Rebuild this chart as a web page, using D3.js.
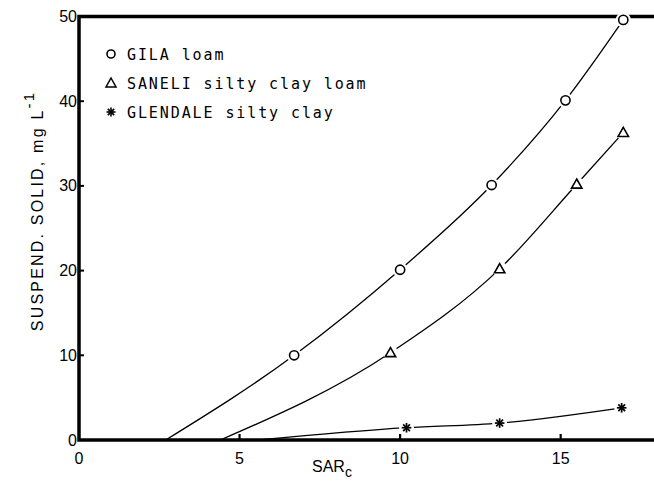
<!DOCTYPE html>
<html><head><meta charset="utf-8">
<script src="https://cdn.jsdelivr.net/npm/d3@7"></script>
<style>
html,body{margin:0;padding:0;background:#fff;}
svg{display:block;}
</style></head>
<body>
<svg id="chart" width="654" height="482"></svg>
<script>
// ---- data ----
const seriesNames = ["GILA loam", "SANELI silty clay loam", "GLENDALE silty clay"];
const seriesMarkers = ["circle", "triangle", "asterisk"];
const curveStartX = [2.7, 4.4, 5.6];          // where each curve leaves zero
const gilaX = [6.7, 10.0, 12.85, 15.15, 16.95];
const gilaY = [10.0, 20.1, 30.1, 40.1, 49.6];
const saneliX = [9.7, 13.1, 15.5, 16.95];
const saneliY = [10.3, 20.2, 30.2, 36.3];
const glendaleX = [10.2, 13.1, 16.9];
const glendaleY = [1.45, 2.0, 3.8];
const xTicks = [0, 5, 10, 15];
const yTicks = [0, 10, 20, 30, 40, 50];

const seriesX = [gilaX, saneliX, glendaleX];
const seriesY = [gilaY, saneliY, glendaleY];

// ---- layout ----
const svg = d3.select("#chart");
const x = d3.scaleLinear().domain([0, 18]).range([79, 657]);
const y = d3.scaleLinear().domain([0, 50]).range([440, 16.5]);

const plotFont = "'DejaVu Sans Mono', monospace";
const numFont = "'Liberation Sans', Arial, sans-serif";

// frame
svg.append("rect")
  .attr("x", x(0)).attr("y", y(50))
  .attr("width", x(18) - x(0)).attr("height", y(0) - y(50))
  .attr("fill", "none").attr("stroke", "#000").attr("stroke-width", 3.5);

// ticks (inside)
svg.append("g").selectAll("line").data(xTicks.filter(d => d > 0)).join("line")
  .attr("x1", d => x(d)).attr("x2", d => x(d))
  .attr("y1", y(0)).attr("y2", y(0) - 6)
  .attr("stroke", "#000").attr("stroke-width", 2.2);
svg.append("g").selectAll("line").data(yTicks.filter(d => d > 0 && d < 50)).join("line")
  .attr("x1", x(0)).attr("x2", x(0) + 5)
  .attr("y1", d => y(d)).attr("y2", d => y(d))
  .attr("stroke", "#000").attr("stroke-width", 2);

// tick labels
svg.append("g").selectAll("text").data(xTicks).join("text")
  .attr("x", d => x(d)).attr("y", 464)
  .attr("text-anchor", "middle")
  .attr("font-family", numFont).attr("font-size", 16)
  .text(d => d);
svg.append("g").selectAll("text").data(yTicks).join("text")
  .attr("x", 77).attr("y", d => y(d) + 5.5)
  .attr("text-anchor", "end")
  .attr("font-family", numFont).attr("font-size", 16)
  .text(d => d);

// axis titles
const xt = svg.append("text")
  .attr("x", 312).attr("y", 472)
  .attr("font-family", numFont).attr("font-size", 16);
xt.append("tspan").text("SAR");
xt.append("tspan").attr("dy", 5).attr("font-size", 14).text("c");

const yt = svg.append("text")
  .attr("transform", "translate(43,211) rotate(-90)")
  .attr("text-anchor", "middle")
  .attr("font-family", numFont).attr("font-size", 16)
  .attr("letter-spacing", 2.2);
yt.append("tspan").text("SUSPEND. SOLID, mg L");
yt.append("tspan").attr("dy", -9).attr("font-size", 15).text("-1");

// curves
const line = d3.line().x(d => x(d[0])).y(d => y(d[1])).curve(d3.curveMonotoneX);
seriesX.forEach((xs, i) => {
  const pts = [[curveStartX[i], 0]].concat(xs.map((v, j) => [v, seriesY[i][j]]));
  svg.append("path").datum(pts)
    .attr("d", line)
    .attr("fill", "none").attr("stroke", "#000").attr("stroke-width", 1.3);
});

// markers
function drawMarker(g, type, cx, cy) {
  g.append("circle").attr("cx", cx).attr("cy", cy).attr("r", 7.5).attr("fill", "#fff");
  if (type === "circle") {
    g.append("circle").attr("cx", cx).attr("cy", cy).attr("r", 4.6)
      .attr("fill", "#fff").attr("stroke", "#000").attr("stroke-width", 1.6);
  } else if (type === "triangle") {
    const s = 5.2;
    g.append("path")
      .attr("d", `M${cx},${cy - s}L${cx + s},${cy + s * 0.75}L${cx - s},${cy + s * 0.75}Z`)
      .attr("fill", "#fff").attr("stroke", "#000").attr("stroke-width", 1.6);
  } else {
    const s = 4.8;
    for (let k = 0; k < 4; k++) {
      const a = k * Math.PI / 4;
      g.append("line")
        .attr("x1", cx - s * Math.cos(a)).attr("y1", cy - s * Math.sin(a))
        .attr("x2", cx + s * Math.cos(a)).attr("y2", cy + s * Math.sin(a))
        .attr("stroke", "#000").attr("stroke-width", 1.7);
    }
  }
}
seriesX.forEach((xs, i) => {
  const g = svg.append("g");
  xs.forEach((v, j) => drawMarker(g, seriesMarkers[i], x(v), y(seriesY[i][j])));
});

// legend
seriesNames.forEach((name, i) => {
  const ly = 54 + i * 29;
  const g = svg.append("g");
  if (seriesMarkers[i] === "circle") {
    g.append("circle").attr("cx", 111).attr("cy", ly).attr("r", 4)
      .attr("fill", "none").attr("stroke", "#000").attr("stroke-width", 1.6);
  } else if (seriesMarkers[i] === "triangle") {
    g.append("path").attr("d", `M111,${ly - 5}L116,${ly + 4}L106,${ly + 4}Z`)
      .attr("fill", "none").attr("stroke", "#000").attr("stroke-width", 1.5);
  } else {
    for (let k = 0; k < 4; k++) {
      const a = k * Math.PI / 4;
      g.append("line")
        .attr("x1", 111 - 4.5 * Math.cos(a)).attr("y1", ly - 4.5 * Math.sin(a))
        .attr("x2", 111 + 4.5 * Math.cos(a)).attr("y2", ly + 4.5 * Math.sin(a))
        .attr("stroke", "#000").attr("stroke-width", 1.6);
    }
  }
  g.append("text").attr("x", 127).attr("y", ly + 5.5)
    .attr("font-family", plotFont).attr("font-size", 15)
    .attr("letter-spacing", 1.9)
    .text(name);
});
</script>
</body></html>
